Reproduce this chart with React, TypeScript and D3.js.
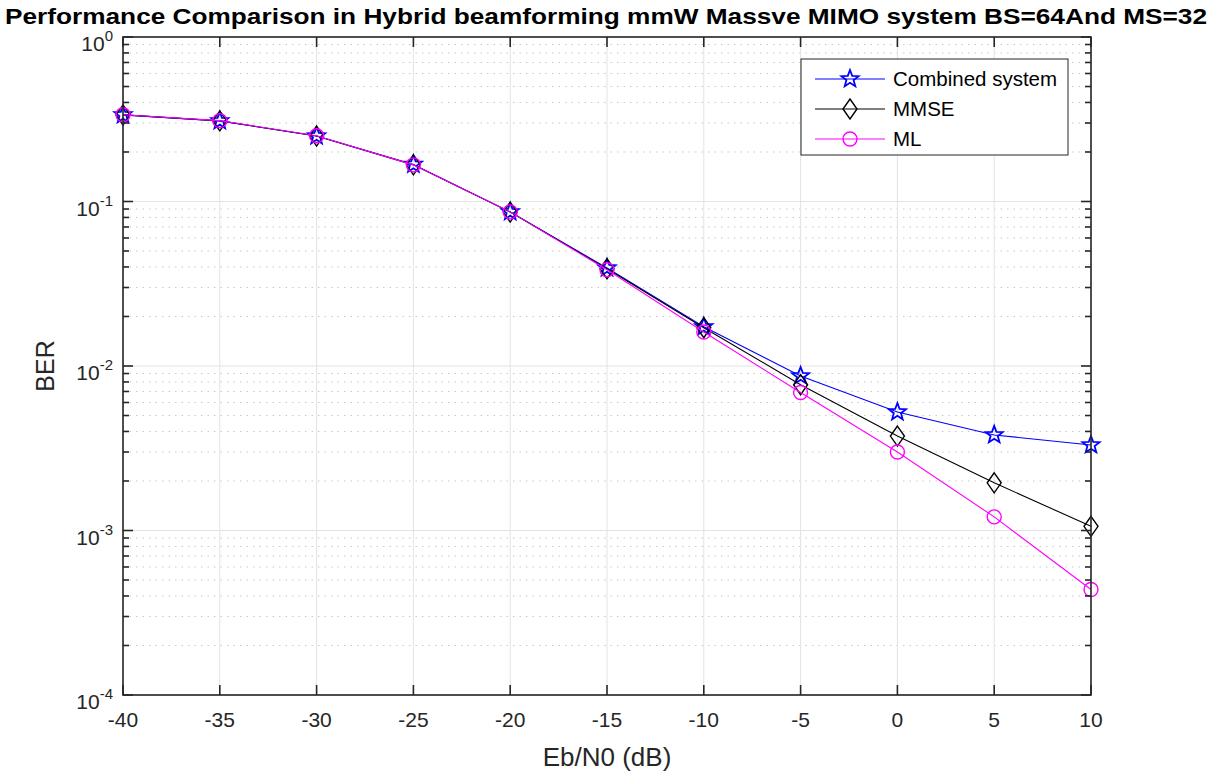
import React from "react";
import * as d3 from "d3";

const ebn0 = [-40, -35, -30, -25, -20, -15, -10, -5, 0, 5, 10];
const berCombined = [0.336, 0.309, 0.25, 0.168, 0.0865, 0.0394, 0.0173, 0.0087, 0.00525, 0.00381, 0.00331];
const berMMSE = [0.336, 0.309, 0.25, 0.167, 0.0862, 0.039, 0.0171, 0.0077, 0.00375, 0.00195, 0.00106];
const berML = [0.337, 0.31, 0.251, 0.167, 0.0865, 0.0385, 0.0161, 0.0069, 0.003, 0.00121, 0.000438];
const xTicks = [-40, -35, -30, -25, -20, -15, -10, -5, 0, 5, 10];
const yExponents = [0, -1, -2, -3, -4];

const W = 1217, H = 774;
const M = { left: 123, right: 1091, top: 37, bottom: 695 };

const series = [
  { name: "Combined system", values: berCombined, color: "#0000ff", marker: "star" },
  { name: "MMSE", values: berMMSE, color: "#000000", marker: "diamond" },
  { name: "ML", values: berML, color: "#ff00ff", marker: "circle" },
];

const x = d3.scaleLinear().domain([-40, 10]).range([M.left, M.right]);
const y = d3.scaleLog().domain([1e-4, 1]).range([M.bottom, M.top]);

function starPath(r: number) {
  const pts: string[] = [];
  const inner = r * 0.42;
  for (let i = 0; i < 10; i++) {
    const rad = i % 2 === 0 ? r : inner;
    const a = -Math.PI / 2 + (i * Math.PI) / 5;
    pts.push(`${(rad * Math.cos(a)).toFixed(2)},${(rad * Math.sin(a)).toFixed(2)}`);
  }
  return "M" + pts.join("L") + "Z";
}

function Marker({ kind, cx, cy, color }: { kind: string; cx: number; cy: number; color: string }) {
  if (kind === "star")
    return <path d={starPath(9)} transform={`translate(${cx},${cy})`} fill="none" stroke={color} strokeWidth={1.8} />;
  if (kind === "diamond")
    return <path d="M0,-10L7,0L0,10L-7,0Z" transform={`translate(${cx},${cy})`} fill="none" stroke={color} strokeWidth={1.4} />;
  return <circle cx={cx} cy={cy} r={7} fill="none" stroke={color} strokeWidth={1.4} />;
}

export default function App() {
  const line = d3
    .line<number>()
    .x((_, i) => x(ebn0[i]))
    .y((v) => y(v));

  const minorVals: number[] = [];
  for (let e = -4; e < 0; e++) for (let k = 2; k <= 9; k++) minorVals.push(k * Math.pow(10, e));

  const font = "'Liberation Sans', Arial, Helvetica, sans-serif";
  const axisColor = "#262626";

  return (
    <svg width={W} height={H} style={{ position: "absolute", left: 0, top: 0, background: "#fff" }} fontFamily={font}>
      <rect x={0} y={0} width={W} height={H} fill="#fff" />
      {/* minor grid */}
      {minorVals.map((v, i) => (
        <line key={"mg" + i} x1={M.left} x2={M.right} y1={y(v)} y2={y(v)} stroke="#c8c8c8" strokeWidth={1} strokeDasharray="1.5,5" />
      ))}
      {/* major grid */}
      {xTicks.map((t) => (
        <line key={"gx" + t} x1={x(t)} x2={x(t)} y1={M.top} y2={M.bottom} stroke="#e3e3e3" strokeWidth={1} />
      ))}
      {yExponents.map((e) => (
        <line key={"gy" + e} x1={M.left} x2={M.right} y1={y(Math.pow(10, e))} y2={y(Math.pow(10, e))} stroke="#e3e3e3" strokeWidth={1} />
      ))}

      {/* data */}
      {series.map((s) => (
        <g key={s.name}>
          <path d={line(s.values) || ""} fill="none" stroke={s.color} strokeWidth={1.1} />
          {s.values.map((v, i) => (
            <Marker key={i} kind={s.marker} cx={x(ebn0[i])} cy={y(v)} color={s.color} />
          ))}
        </g>
      ))}

      {/* axes box */}
      <rect x={M.left} y={M.top} width={M.right - M.left} height={M.bottom - M.top} fill="none" stroke={axisColor} strokeWidth={1.6} />
      {xTicks.map((t) => (
        <g key={"tx" + t}>
          <line x1={x(t)} x2={x(t)} y1={M.bottom} y2={M.bottom - 10} stroke={axisColor} strokeWidth={1.6} />
          <line x1={x(t)} x2={x(t)} y1={M.top} y2={M.top + 10} stroke={axisColor} strokeWidth={1.6} />
          <text x={x(t)} y={M.bottom + 32} textAnchor="middle" fontSize={21} fill={axisColor}>
            {t}
          </text>
        </g>
      ))}
      {minorVals.map((v, i) => (
        <g key={"mt" + i}>
          <line x1={M.left} x2={M.left + 6} y1={y(v)} y2={y(v)} stroke={axisColor} strokeWidth={1.6} />
          <line x1={M.right} x2={M.right - 6} y1={y(v)} y2={y(v)} stroke={axisColor} strokeWidth={1.6} />
        </g>
      ))}
      {yExponents.map((e) => (
        <g key={"ty" + e}>
          <line x1={M.left} x2={M.left + 10} y1={y(Math.pow(10, e))} y2={y(Math.pow(10, e))} stroke={axisColor} strokeWidth={1.6} />
          <line x1={M.right} x2={M.right - 10} y1={y(Math.pow(10, e))} y2={y(Math.pow(10, e))} stroke={axisColor} strokeWidth={1.6} />
          <text x={M.left - 10} y={y(Math.pow(10, e)) + 14} textAnchor="end" fontSize={21} fill={axisColor}>
            10<tspan dy={-10} fontSize={15}>{e}</tspan>
          </text>
        </g>
      ))}

      {/* axis labels */}
      <text x={(M.left + M.right) / 2} y={766} textAnchor="middle" fontSize={26} fill={axisColor}>
        Eb/N0 (dB)
      </text>
      <text transform={`translate(54,${(M.top + M.bottom) / 2}) rotate(-90)`} textAnchor="middle" fontSize={25} fill={axisColor}>
        BER
      </text>

      {/* title */}
      <text x={5} y={24} fontSize={22} fontWeight="bold" fill="#000" textLength={1202} lengthAdjust="spacingAndGlyphs">
        Performance Comparison in Hybrid beamforming mmW Massve MIMO system BS=64And MS=32
      </text>

      {/* legend */}
      <g>
        <rect x={801} y={59} width={267} height={96} fill="#fff" stroke={axisColor} strokeWidth={1} />
        {series.map((s, i) => {
          const ly = 79 + i * 30;
          return (
            <g key={"lg" + s.name}>
              <line x1={815} x2={885} y1={ly} y2={ly} stroke={s.color} strokeWidth={1.1} />
              <Marker kind={s.marker} cx={850} cy={ly} color={s.color} />
              <text x={893} y={ly + 7} fontSize={20.5} fill="#000">
                {s.name}
              </text>
            </g>
          );
        })}
      </g>
    </svg>
  );
}
